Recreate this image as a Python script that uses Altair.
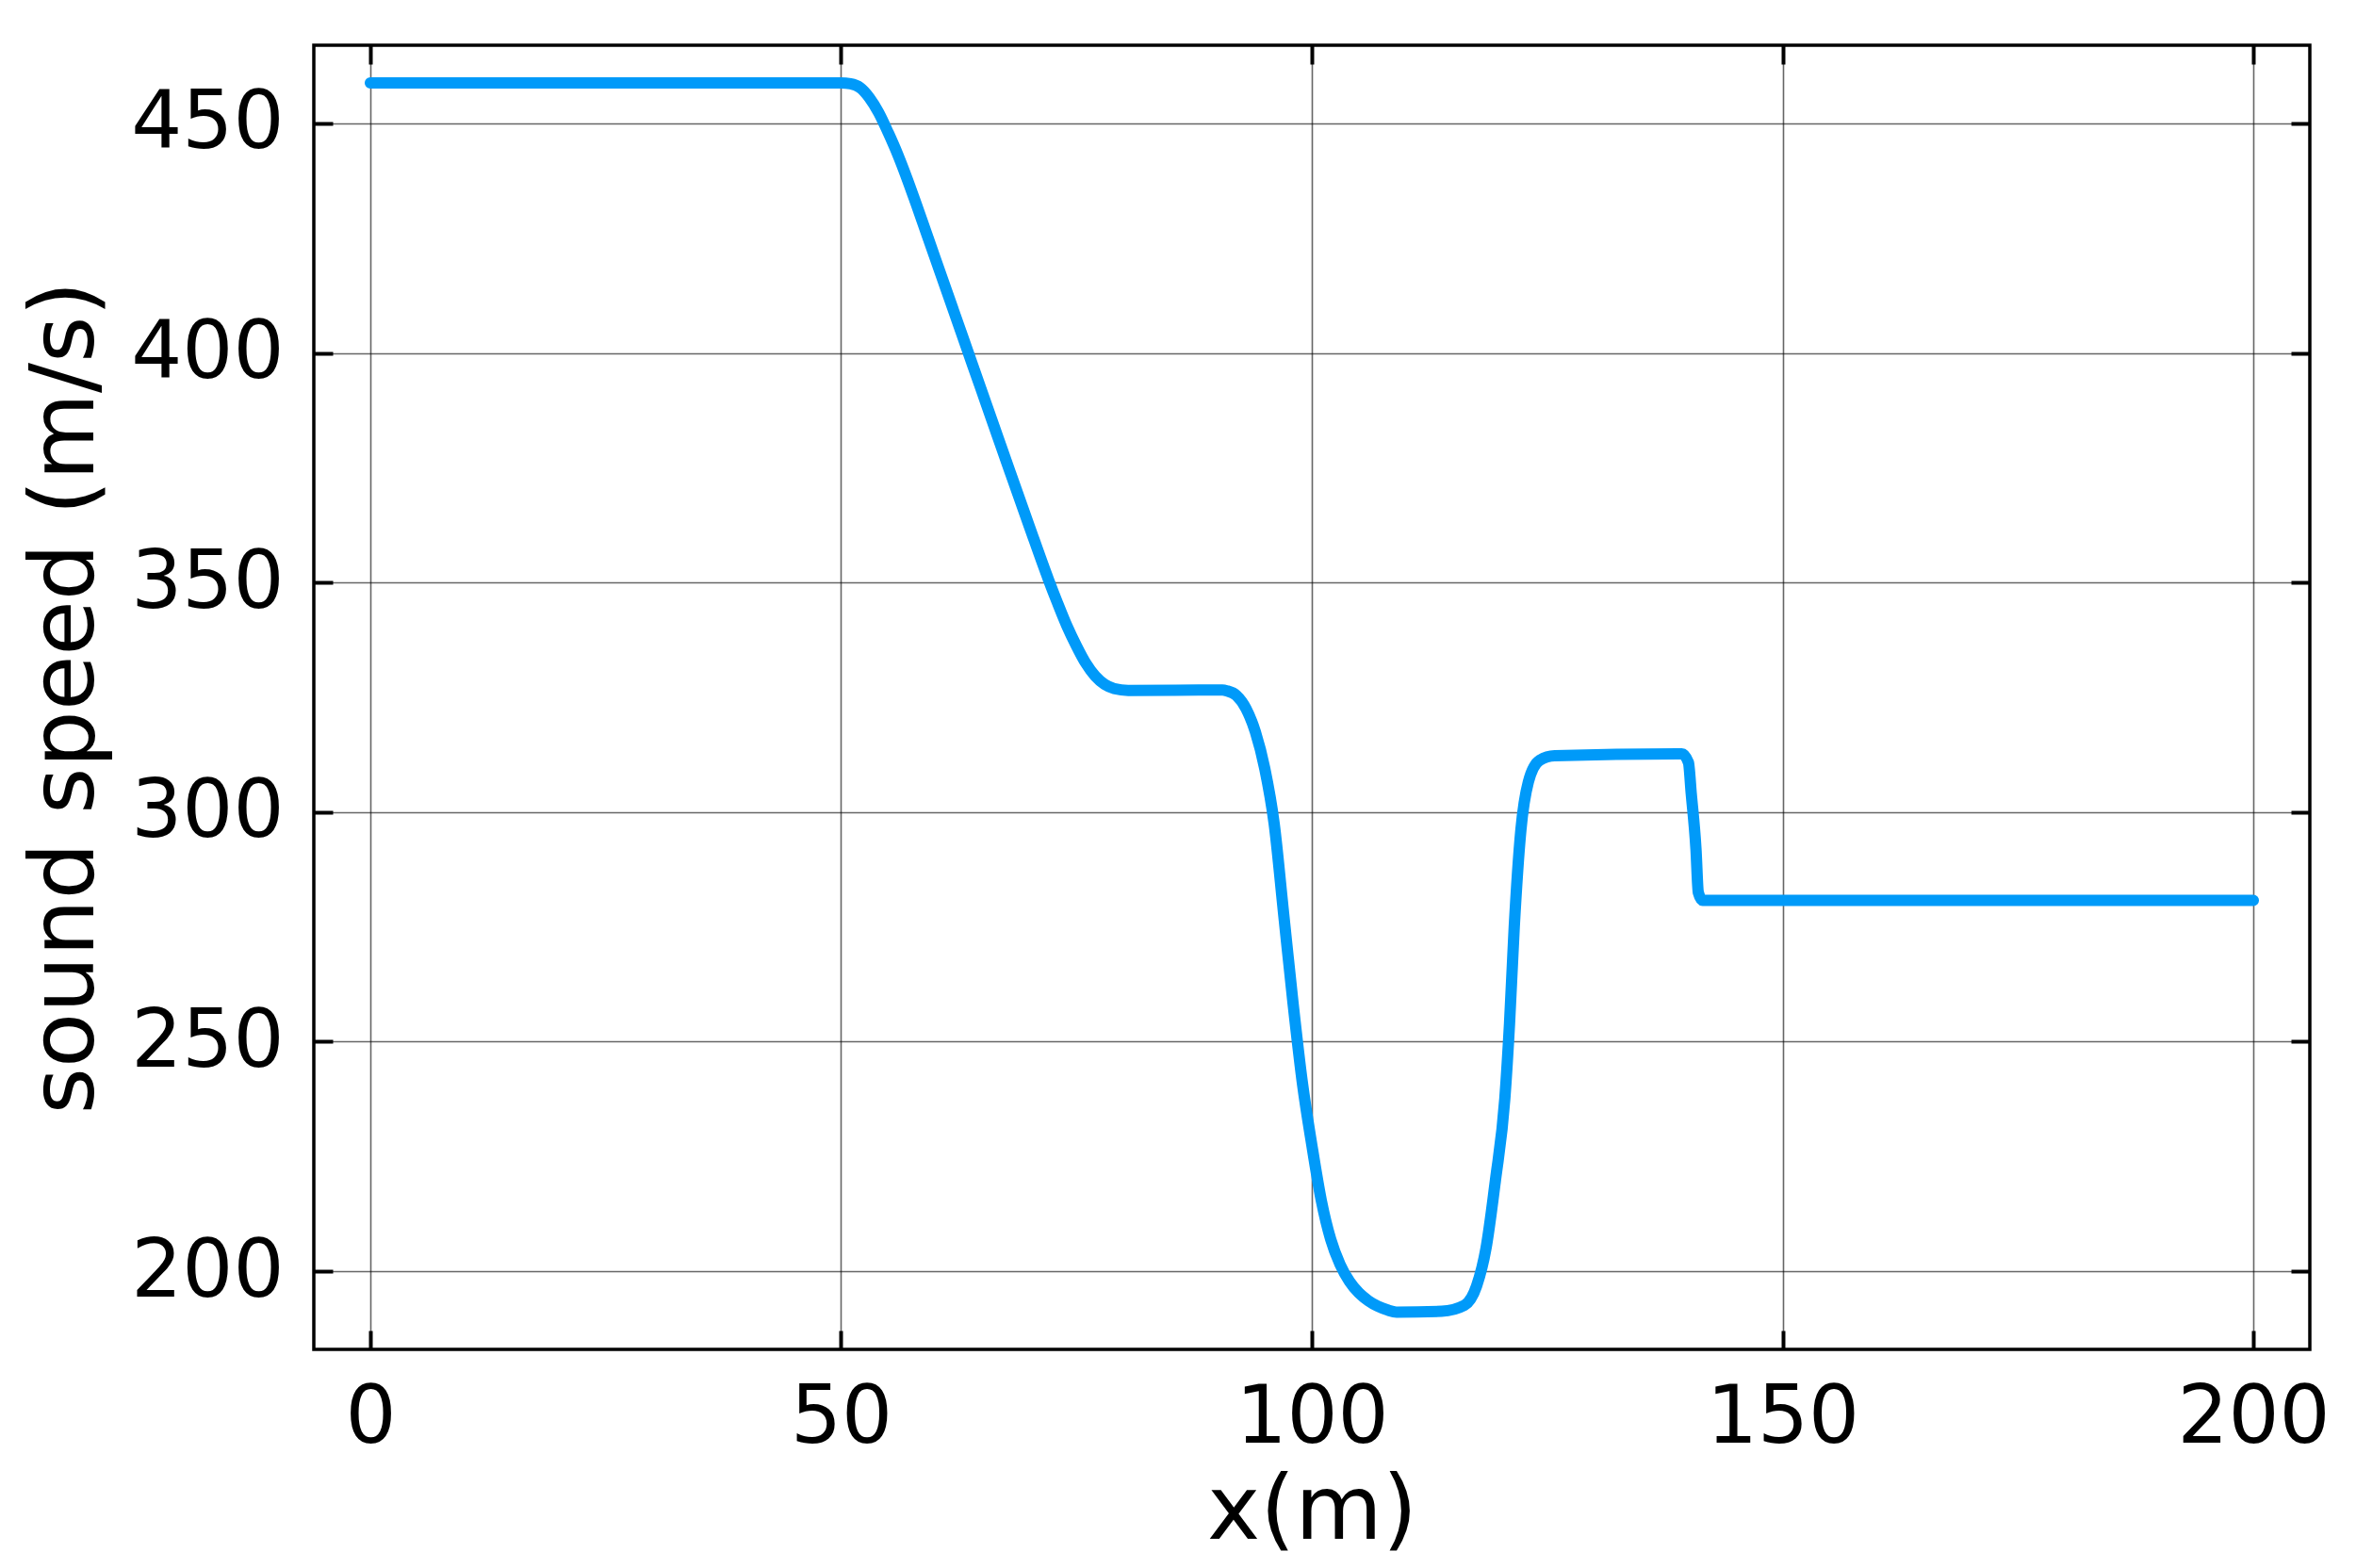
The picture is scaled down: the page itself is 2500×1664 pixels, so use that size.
import altair as alt
import pandas as pd

# Data
x_vals = [0, 50, 51, 52, 53, 54, 55, 56, 57, 58, 60, 62, 64, 66, 68, 70, 72, 73,
          74, 75, 76, 77, 78, 79, 80.5, 90.5, 91, 92, 93, 94, 95, 96, 97, 98, 99,
          100, 101, 102, 103, 104, 105, 106, 107, 108, 109, 113.8, 116.2,
          117.5, 118.5, 119.5, 120.5, 121.0, 121.5, 122.2, 123.0, 124.2, 125.8,
          139.3, 140.0, 140.3, 140.8, 141.05, 141.5, 200]
y_vals = [458.8, 458.8, 458.6, 457.8, 455.6, 452.3, 448.0, 443.3, 438.0, 432.3,
          420.6, 408.9, 397.2, 385.5, 373.8, 362.2, 350.8, 345.5, 340.5, 336.2,
          332.4, 329.6, 327.8, 326.9, 326.5, 326.6, 326.4, 325.4, 322.6, 317.5,
          309.5, 297.5, 278.0, 258.5, 241.0, 227.5, 215.5, 207.0, 201.5, 197.8,
          195.3, 193.6, 192.4, 191.6, 191.1, 191.3, 192.6, 196.8, 205.0, 219.8,
          237.6, 254.0, 275.0, 296.0, 306.6, 311.3, 312.3, 312.7, 310.8, 304.0,
          292.0, 282.5, 280.8, 280.8]

x_ticks = [0, 50, 100, 150, 200]
y_ticks = [200, 250, 300, 350, 400, 450]
x_title = "x(m)"
y_title = "sound speed (m/s)"

df = pd.DataFrame({"x": x_vals, "y": y_vals})

W, H = 2118, 1384
FONT = "DejaVu Sans"
TICK_FS = 85
TITLE_FS = 95

xscale = alt.Scale(domain=[-6, 206], nice=False, zero=False)
yscale = alt.Scale(domain=[183, 467], nice=False, zero=False)

main_x = alt.Axis(values=x_ticks, orient="bottom", ticks=False, domain=False,
                  grid=True, gridColor="#000000", gridOpacity=0.6, gridWidth=1.6,
                  labelFont=FONT, labelFontSize=TICK_FS, labelColor="black",
                  labelPadding=31, labelBaseline="top", labelFlush=False,
                  title=x_title, titleFont=FONT, titleFontSize=TITLE_FS,
                  titleFontWeight="normal", titleColor="black",
                  titleX=W / 2, titleY=200, titleBaseline="alphabetic",
                  titleAlign="center")
main_y = alt.Axis(values=y_ticks, orient="left", ticks=False, domain=False,
                  grid=True, gridColor="#000000", gridOpacity=0.6, gridWidth=1.6,
                  labelFont=FONT, labelFontSize=TICK_FS, labelColor="black",
                  labelPadding=32, labelBaseline="middle", labelFlush=False,
                  title=y_title, titleFont=FONT, titleFontSize=TITLE_FS,
                  titleFontWeight="normal", titleColor="black",
                  titleAngle=270, titleX=-235, titleY=H / 2,
                  titleBaseline="alphabetic", titleAlign="center")


def tick_axis(orient, offset, values):
    return alt.Axis(values=values, orient=orient, offset=offset, labels=False,
                    domain=False, grid=False, ticks=True, tickSize=20,
                    tickWidth=4, tickColor="black", title=None)


line = alt.Chart(df).mark_line(
    color="#009AF9", strokeWidth=12, strokeCap="round", strokeJoin="round",
    interpolate="monotone", clip=True
).encode(
    x=alt.X("x:Q", scale=xscale, axis=main_x),
    y=alt.Y("y:Q", scale=yscale, axis=main_y),
)

ticks_a = alt.Chart(df).mark_line(opacity=0).encode(
    x=alt.X("x:Q", scale=xscale, axis=tick_axis("top", -H, x_ticks)),
    y=alt.Y("y:Q", scale=yscale, axis=tick_axis("right", -W, y_ticks)),
)
ticks_b = alt.Chart(df).mark_line(opacity=0).encode(
    x=alt.X("x:Q", scale=xscale, axis=tick_axis("bottom", -H, x_ticks)),
    y=alt.Y("y:Q", scale=yscale, axis=tick_axis("left", -W, y_ticks)),
)

chart = alt.layer(line, ticks_a, ticks_b).resolve_axis(
    x="independent", y="independent"
).properties(
    width=W, height=H,
    autosize=alt.AutoSizeParams(type="none"),
    padding={"left": 325, "top": 40, "right": 41, "bottom": 224},
    background="white",
).configure_view(stroke="black", strokeWidth=3.5)

chart.save("out.html", embed_options={"renderer": "svg", "actions": False})
